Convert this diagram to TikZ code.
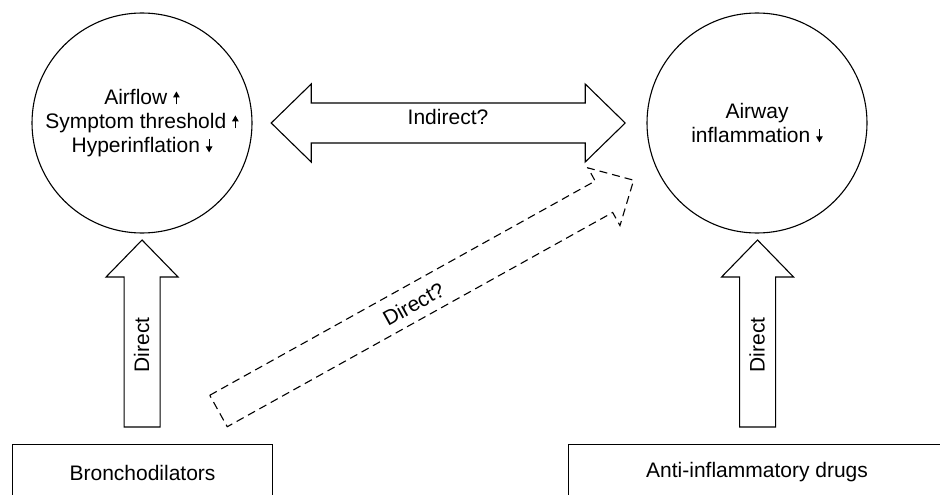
\documentclass[tikz,border=0pt]{standalone}
\usepackage{fontspec}
\setmainfont{Liberation Sans}
\usetikzlibrary{arrows.meta,calc}
\newcommand\upar{\tikz[baseline=0pt]\draw[line width=1.1pt,-{Triangle[width=6.5pt,length=6pt]}](0pt,0pt)--(0pt,13pt);}
\newcommand\dnar{\tikz[baseline=0pt]\draw[line width=1.1pt,-{Triangle[width=6.5pt,length=6pt]}](0pt,13pt)--(0pt,0pt);}
\begin{document}
\begin{tikzpicture}[x=1pt,y=-1pt,
  line width=1.1pt,
  font=\fontsize{21pt}{24pt}\selectfont,
  circ/.style={draw, circle, minimum size=220pt, inner sep=0pt, align=center},
  boxnode/.style={draw, rectangle, minimum height=56pt, inner sep=0pt, anchor=north west},
  lbl/.style={inner sep=0pt},
  dashedarrow/.style={dash pattern=on 8pt off 5pt},
  pics/barrow/.style n args={4}{code={
    \draw (0,-#2) -- ({#1-#4},-#2) -- ({#1-#4},-#3) -- (#1,0) -- ({#1-#4},#3) -- ({#1-#4},#2) -- (0,#2) -- cycle;}},
  pics/dbarrow/.style n args={4}{code={
    \draw (0,0) -- (#4,-#3) -- (#4,-#2) -- ({#1-#4},-#2) -- ({#1-#4},-#3) -- (#1,0) -- ({#1-#4},#3) -- ({#1-#4},#2) -- (#4,#2) -- (#4,#3) -- cycle;}}
]
\useasboundingbox (0,0) rectangle (940,495);
\clip (0,0) rectangle (940,495);
\fill[white] (0,0) rectangle (940,495);

% circles
\node[circ] (bd) at (142,123) {Airflow \upar\\Symptom threshold \upar\\Hyperinflation \dnar};
\node[circ] (ai) at (757,123) {Airway\\inflammation \dnar};

% drug boxes
\node[boxnode, minimum width=260pt] (bron) at (12,444) {Bronchodilators};
\node[boxnode, minimum width=377pt] (aid) at (568,444) {Anti-inflammatory drugs};

% arrow anchors
\coordinate (lt) at ($(bron.north)+(-0.5,-17)$);
\coordinate (rt) at ($(aid.north)+(0.5,-17)$);
\coordinate (dl) at ($(bd.east)+(19,0)$);
\coordinate (dtail) at (218.5,411);

% block arrows
\pic[rotate=90] at (lt) {barrow={187}{18}{36}{37}};
\pic[rotate=90] at (rt) {barrow={187}{18}{36}{37}};
\pic at (dl) {dbarrow={354}{20}{39}{40}};
\pic[rotate=29.07, dashedarrow] at (dtail) {barrow={475}{18}{33}{34}};

% arrow labels
\node[lbl] (ind) at (448,117) {Indirect?};
\node[lbl, rotate=90] (d1) at (141.5,345) {Direct};
\node[lbl, rotate=90] (d2) at (757,345) {Direct};
\node[lbl, rotate=29.07] (d3) at (413.5,304) {Direct?};
\end{tikzpicture}
\end{document}
